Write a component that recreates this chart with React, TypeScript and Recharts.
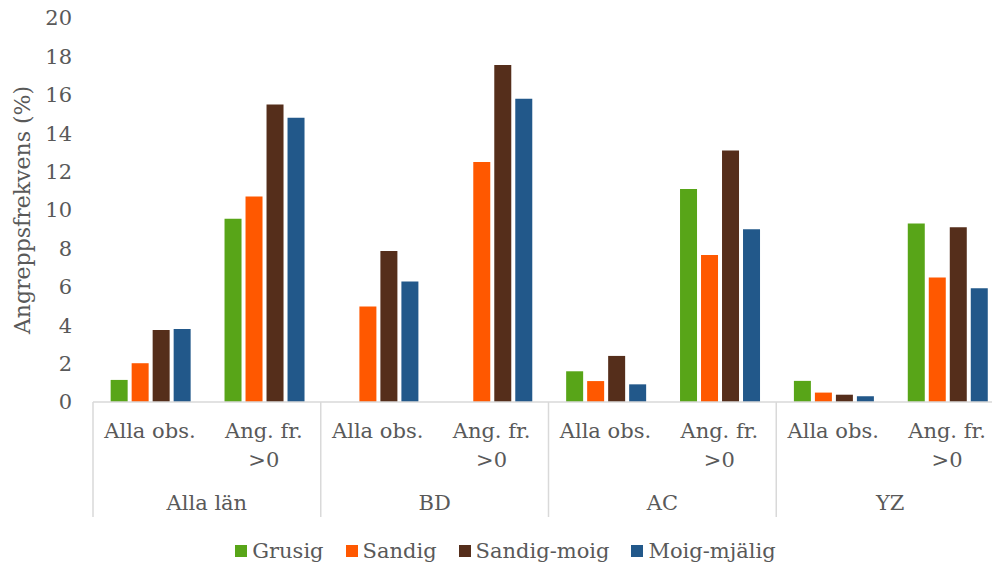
import React from 'react';
import { BarChart, Bar, XAxis, YAxis, Legend } from 'recharts';

const categories = ['Alla obs.', 'Ang. fr.\n>0', 'Alla obs.', 'Ang. fr.\n>0', 'Alla obs.', 'Ang. fr.\n>0', 'Alla obs.', 'Ang. fr.\n>0'];
const groups = ['Alla län', 'Alla län', 'BD', 'BD', 'AC', 'AC', 'YZ', 'YZ'];
const grusig = [1.15, 9.55, null, null, 1.6, 11.1, 1.1, 9.3];
const sandig = [2.02, 10.7, 4.97, 12.5, 1.09, 7.66, 0.49, 6.49];
const sandigMoig = [3.75, 15.5, 7.86, 17.55, 2.4, 13.1, 0.38, 9.1];
const moigMjalig = [3.8, 14.8, 6.28, 15.8, 0.92, 9.0, 0.3, 5.92];
const yTicks = [0, 2, 4, 6, 8, 10, 12, 14, 16, 18, 20];

const seriesNames = ['Grusig', 'Sandig', 'Sandig-moig', 'Moig-mjälig'];
const colors = ['#58A518', '#FF5800', '#552E1B', '#22588A'];

const data = categories.map((c, i) => ({
  cat: c,
  group: groups[i],
  grusig: grusig[i],
  sandig: sandig[i],
  sandigMoig: sandigMoig[i],
  moigMjalig: moigMjalig[i],
}));

const FONT = 'DejaVu Serif';
const TEXT = '#595959';
const GRID = '#D9D9D9';

const CHART_W = 1004;
const CHART_H = 564;
const Y_W = 93;
const PLOT_W = CHART_W - Y_W;
const BAND = PLOT_W / categories.length;

const XTick = (props: any) => {
  const { x, y, payload } = props;
  const idx = payload.index;
  const lines = String(payload.value).split('\n');
  const elems: any[] = [];
  lines.forEach((ln, i) => {
    elems.push(
      <text key={'l' + i} x={x} y={y + 36 + i * 29} textAnchor="middle" fill={TEXT} fontFamily={FONT} fontSize={21}>
        {ln}
      </text>
    );
  });
  if (idx % 2 === 0) {
    const left = x - BAND / 2;
    elems.push(<line key="d" x1={left} y1={y} x2={left} y2={y + 115} stroke={GRID} strokeWidth={1.5} />);
    elems.push(
      <text key="g" x={x + BAND / 2} y={y + 108} textAnchor="middle" fill={TEXT} fontFamily={FONT} fontSize={21}>
        {groups[idx]}
      </text>
    );
  }
  if (idx === categories.length - 1) {
    const right = x + BAND / 2;
    elems.push(<line key="r" x1={right} y1={y} x2={right} y2={y + 115} stroke={GRID} strokeWidth={1.5} />);
  }
  return <g>{elems}</g>;
};

const LegendContent = () => (
  <div style={{ display: 'flex', justifyContent: 'center', alignItems: 'center', fontFamily: FONT, fontSize: 21, color: TEXT }}>
    {seriesNames.map((n, i) => (
      <div key={n} style={{ display: 'flex', alignItems: 'center', marginRight: i < seriesNames.length - 1 ? 22 : 0 }}>
        <span style={{ display: 'inline-block', width: 12, height: 12, background: colors[i], marginRight: 5 }} />
        <span style={{ lineHeight: '26px' }}>{n}</span>
      </div>
    ))}
  </div>
);

const YLabel = (props: any) => {
  const vb = props.viewBox || { x: 0, y: 18, width: Y_W, height: 384 };
  const cx = vb.x + 22;
  const cy = vb.y + vb.height / 2;
  return (
    <text x={cx} y={cy} transform={`rotate(-90, ${cx}, ${cy})`} textAnchor="middle" dominantBaseline="central" fill={TEXT} fontFamily={FONT} fontSize={22}>
      Angreppsfrekvens (%)
    </text>
  );
};

export default function App() {
  return (
    <div style={{ position: 'absolute', left: 0, top: 0, width: 992, height: 564, overflow: 'hidden', background: '#fff' }}>
      <BarChart
        width={CHART_W}
        height={CHART_H}
        data={data}
        margin={{ top: 18, right: 0, bottom: 0, left: 0 }}
        barCategoryGap="15.5%"
        barGap={4}
      >
        <XAxis
          dataKey="cat"
          interval={0}
          height={162}
          tickLine={false}
          tickSize={0}
          tickMargin={0}
          axisLine={{ stroke: GRID, strokeWidth: 1.5 }}
          tick={<XTick />}
        />
        <YAxis
          width={Y_W}
          domain={[0, 20]}
          ticks={yTicks}
          interval={0}
          axisLine={false}
          tickLine={false}
          tickMargin={15}
          tick={{ fill: TEXT, fontFamily: FONT, fontSize: 21 }}
          label={<YLabel />}
        />
        <Legend
          layout="horizontal"
          verticalAlign="middle"
          align="center"
          content={<LegendContent />}
          wrapperStyle={{ position: 'absolute', top: 538, left: 0, width: 1011, height: 26 }}
        />
        <Bar dataKey="grusig" name={seriesNames[0]} fill={colors[0]} isAnimationActive={false} />
        <Bar dataKey="sandig" name={seriesNames[1]} fill={colors[1]} isAnimationActive={false} />
        <Bar dataKey="sandigMoig" name={seriesNames[2]} fill={colors[2]} isAnimationActive={false} />
        <Bar dataKey="moigMjalig" name={seriesNames[3]} fill={colors[3]} isAnimationActive={false} />
      </BarChart>
    </div>
  );
}
